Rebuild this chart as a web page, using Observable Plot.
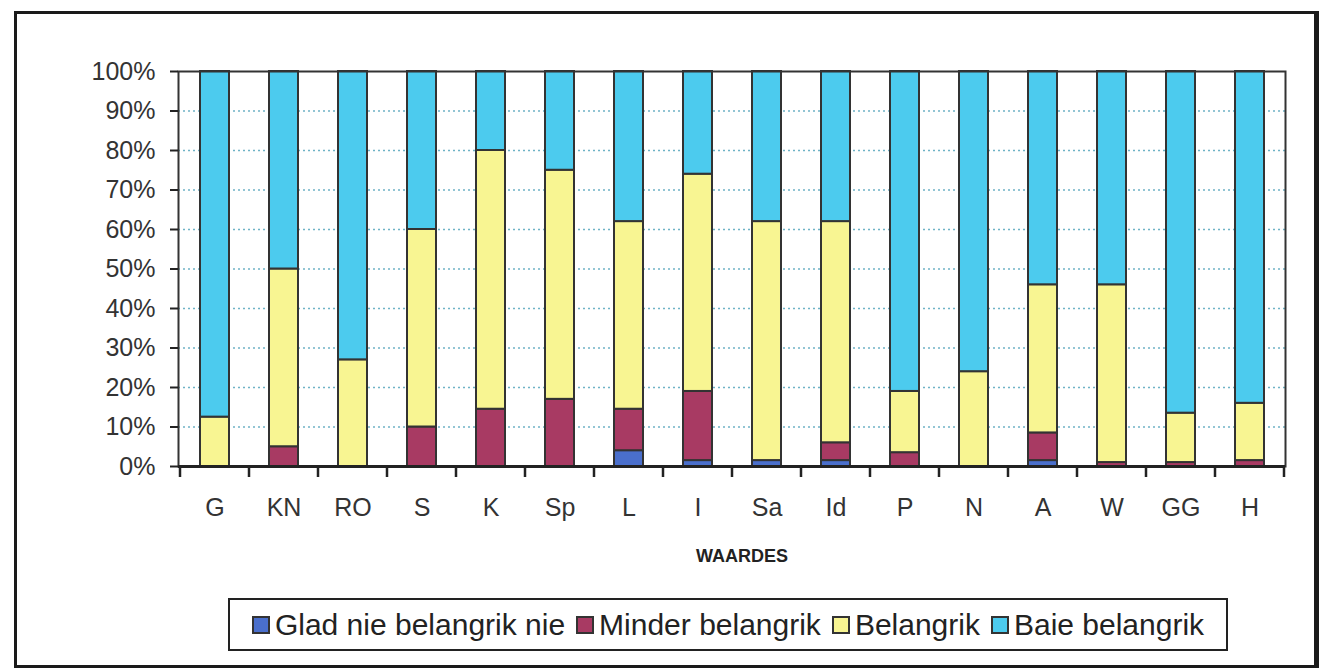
<!DOCTYPE html>
<html>
<head>
<meta charset="utf-8">
<script src="https://cdn.jsdelivr.net/npm/d3@7"></script>
<script src="https://cdn.jsdelivr.net/npm/@observablehq/plot@0.6"></script>
<style>
  html, body { margin: 0; padding: 0; background: #fff; }
  #page { position: relative; width: 1320px; height: 671px; overflow: hidden; font-family: "Liberation Sans", Arial, sans-serif; }
  #outer { position: absolute; left: 14px; top: 11px; width: 1297px; height: 651px; border: 3px solid #1a1a1a; border-right-width: 5px; box-sizing: content-box; }
  #chart { position: absolute; left: 0; top: 0; }
  #legend { position: absolute; left: 228px; top: 598px; width: 996px; height: 49px; border: 2px solid #222; display: flex; align-items: center; justify-content: center; gap: 11px; font-size: 30px; color: #222; background: #fff; }
  .item { display: flex; align-items: center; gap: 5px; }
  .sw { width: 14px; height: 14px; border: 2.5px solid #333; display: inline-block; }
</style>
</head>
<body>
<div id="page">
  <div id="outer"></div>
  <div id="chart"></div>
  <div id="legend"></div>
</div>
<script>
const categories = ["G","KN","RO","S","K","Sp","L","I","Sa","Id","P","N","A","W","GG","H"];
const seriesNames = ["Glad nie belangrik nie","Minder belangrik","Belangrik","Baie belangrik"];
const seriesColors = ["#4a6fcc","#a83a63","#f8f592","#4ccbee"];
const gladNie   = [0,0,0,0,0,0,4,1.5,1.5,1.5,0,0,1.5,0,0,0];
const minder    = [0,5,0,10,14.5,17,10.5,17.5,0,4.5,3.5,0,7,1,1,1.5];
const belangrik = [12.5,45,27,50,65.5,58,47.5,55,60.5,56,15.5,24,37.5,45,12.5,14.5];
const baie      = [87.5,50,73,40,20,25,38,26,38,38,81,76,54,54,86.5,84];
const yTicks = [0,10,20,30,40,50,60,70,80,90,100];

const seriesValues = [gladNie, minder, belangrik, baie];
const data = [];
categories.forEach((c, i) => {
  seriesValues.forEach((arr, s) => data.push({cat: c, series: seriesNames[s], value: arr[i]}));
});

const W = 1320, H = 584;
const plot = Plot.plot({
  width: W, height: H,
  marginLeft: 178, marginRight: 35, marginTop: 71, marginBottom: H - 466,
  style: {fontFamily: "'Liberation Sans', Arial, sans-serif", background: "transparent", color: "#222"},
  x: {domain: categories, paddingInner: 0.58, paddingOuter: 0.24, label: null},
  y: {domain: [0, 100], ticks: yTicks, label: null},
  color: {domain: seriesNames, range: seriesColors},
  marks: [
    Plot.gridY(yTicks.filter(d => d > 0 && d < 100), {stroke: "#6fb3c6", strokeOpacity: 1, strokeWidth: 1.3, strokeDasharray: "2,3"}),
    Plot.barY(data, Plot.stackY({x: "cat", y: "value", fill: "series", order: null, stroke: "#333", strokeWidth: 2})),
    Plot.frame({stroke: "#333", strokeWidth: 2}),
    Plot.ruleY([0], {stroke: "#222", strokeWidth: 3}),
    Plot.axisY({ticks: yTicks, tickFormat: d => d + "%", tickSize: 8, tickPadding: 15, fontSize: 25, stroke: "#222", strokeWidth: 2, label: null}),
    Plot.axisX({tickSize: 0, tickPadding: 32, fontSize: 25, label: "WAARDES", labelAnchor: "center", labelOffset: 95})
  ]
});
document.getElementById("chart").appendChild(plot);

// style axis label
const svg = d3.select(plot);
svg.selectAll('g[aria-label="x-axis label"] text').attr("font-weight", "bold").attr("font-size", 18).attr("dx", 10);
svg.selectAll('g[aria-label="x-axis tick label"]').attr("fill", "#333");
svg.selectAll('g[aria-label="y-axis tick label"]').attr("fill", "#333");

// category boundary ticks from the band scale
const sx = plot.scale("x");
const step = sx.step;
const bounds = categories.map(c => sx.apply(c) - (step - sx.bandwidth) / 2);
bounds.push(bounds[bounds.length - 1] + step);
const y0 = plot.scale("y").apply(0);
svg.append("g").selectAll("line").data(bounds).join("line")
  .attr("x1", d => d).attr("x2", d => d).attr("y1", y0).attr("y2", y0 + 11)
  .attr("stroke", "#222").attr("stroke-width", 2.5);

// legend
const lg = d3.select("#legend");
seriesNames.forEach((n, i) => {
  const it = lg.append("div").attr("class", "item");
  it.append("span").attr("class", "sw").style("background", seriesColors[i]);
  it.append("span").text(n);
});
</script>
</body>
</html>
